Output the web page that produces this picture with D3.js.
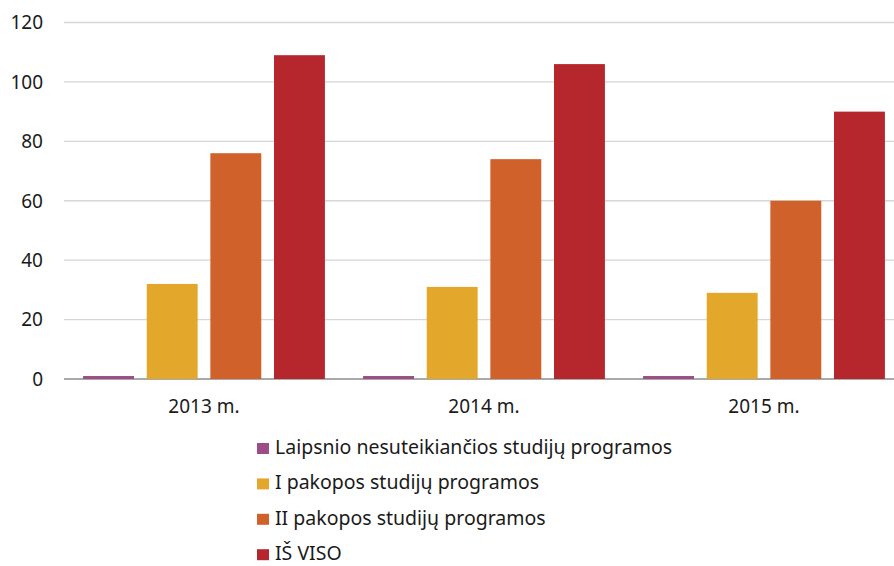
<!DOCTYPE html>
<html lang="lt">
  <head>
    <meta charset="utf-8" />
    <script src="https://d3js.org/d3.v7.min.js"></script>
    <style>
      body { margin: 0; background: #fff; }
      svg text { font-family: 'Noto Sans', 'Open Sans', sans-serif; fill: #1a1a1a; }
    </style>
  </head>
  <body>
    <svg id="chart" width="894" height="566"></svg>
    <script>
      // Data
      const years = ['2013 m.', '2014 m.', '2015 m.'];
      const seriesNames = [
        'Laipsnio nesuteikiančios studijų programos',
        'I pakopos studijų programos',
        'II pakopos studijų programos',
        'IŠ VISO',
      ];
      const seriesColors = ['#9c4c87', '#e2a72b', '#d0612a', '#b5272d'];
      const laipsnioValues = [1, 1, 1];
      const iPakoposValues = [32, 31, 29];
      const iiPakoposValues = [76, 74, 60];
      const isVisoValues = [109, 106, 90];
      const yTicks = [0, 20, 40, 60, 80, 100, 120];

      const seriesValues = [laipsnioValues, iPakoposValues, iiPakoposValues, isVisoValues];

      const svg = d3.select('#chart');
      const plotLeft = 64, plotRight = 904, plotTop = 22.5, plotBottom = 379;

      const y = d3.scaleLinear().domain([0, 120]).range([plotBottom, plotTop]);
      const x0 = d3.scaleBand().domain(years).range([plotLeft, plotRight]);
      const x1 = d3.scaleBand()
        .domain(d3.range(seriesNames.length))
        .range([0, x0.bandwidth()])
        .paddingInner(0.2)
        .paddingOuter(0.3);

      // gridlines
      svg.append('g')
        .selectAll('line')
        .data(yTicks)
        .join('line')
        .attr('x1', plotLeft)
        .attr('x2', 894)
        .attr('y1', d => y(d))
        .attr('y2', d => y(d))
        .attr('stroke', d => (d === 0 ? '#8c8c8c' : '#d6d6d6'))
        .attr('stroke-width', 1.3);

      // y labels
      svg.append('g')
        .selectAll('text')
        .data(yTicks)
        .join('text')
        .attr('x', 43)
        .attr('y', d => y(d))
        .attr('dy', '0.36em')
        .attr('text-anchor', 'end')
        .style('font-size', '19px')
        .text(d => d);

      // bars
      const groups = svg.append('g')
        .selectAll('g')
        .data(years)
        .join('g')
        .attr('transform', d => `translate(${x0(d)},0)`);

      groups.selectAll('rect')
        .data((d, i) => seriesValues.map((vals, s) => ({ s, v: vals[i] })))
        .join('rect')
        .attr('x', d => x1(d.s))
        .attr('width', x1.bandwidth())
        .attr('y', d => y(d.v))
        .attr('height', d => y(0) - y(d.v))
        .attr('fill', d => seriesColors[d.s]);

      // x labels
      svg.append('g')
        .selectAll('text')
        .data(years)
        .join('text')
        .attr('x', d => x0(d) + x0.bandwidth() / 2)
        .attr('y', 413)
        .attr('text-anchor', 'middle')
        .style('font-size', '19px')
        .text(d => d);

      // legend
      const legend = svg.append('g')
        .selectAll('g')
        .data(seriesNames)
        .join('g')
        .attr('transform', (d, i) => `translate(257,${448 + i * 35.4})`);

      legend.append('rect')
        .attr('x', 0)
        .attr('y', -5)
        .attr('width', 12)
        .attr('height', 11)
        .attr('fill', (d, i) => seriesColors[i]);

      legend.append('text')
        .attr('x', 18)
        .attr('y', 6)
        .style('font-size', '19.5px')
        .text(d => d);
    </script>
  </body>
</html>
